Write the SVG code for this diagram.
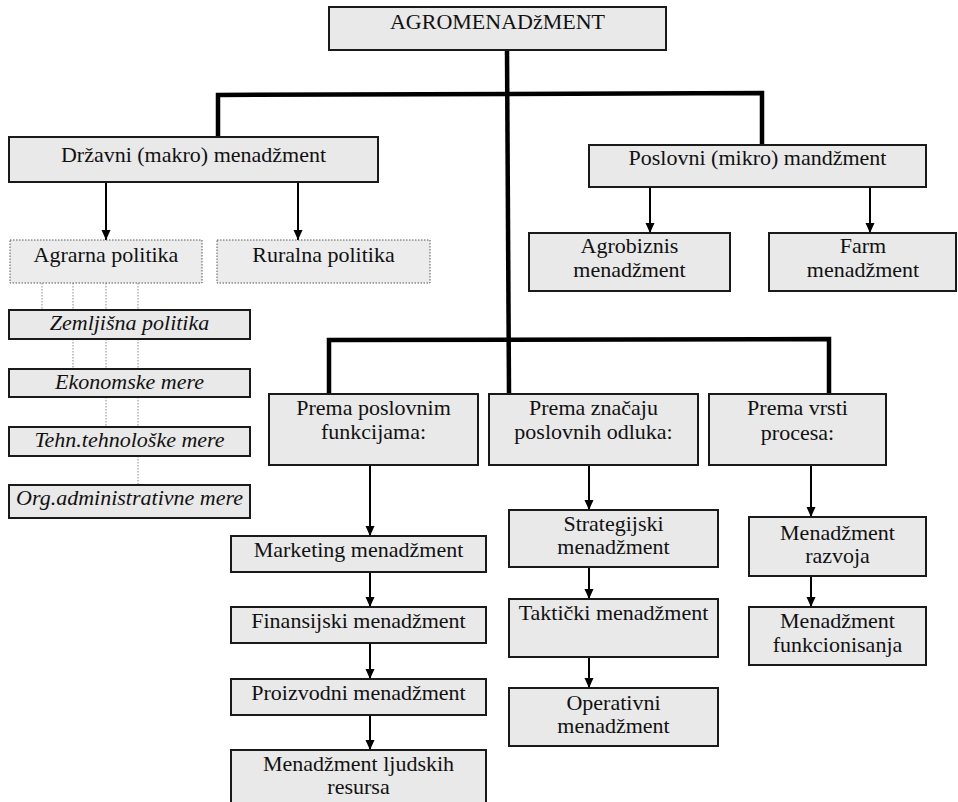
<svg xmlns="http://www.w3.org/2000/svg" width="958" height="802" viewBox="0 0 958 802">
<defs>
<style>
text{font-family:"Liberation Serif","DejaVu Serif","Times New Roman",serif;font-size:22px;fill:#111;text-anchor:middle}
.it{font-style:italic}
.box{fill:#e9e9e9;stroke:#1a1a1a;stroke-width:2}
.dbox{fill:#ececec;stroke:#555;stroke-width:1;stroke-dasharray:1.5 1.5}
.thick{fill:none;stroke:#000;stroke-width:4.5}
.arr{fill:none;stroke:#000;stroke-width:2;marker-end:url(#ah)}
.dot{fill:none;stroke:#888;stroke-width:1;stroke-dasharray:1.5 1.5}
</style>
<marker id="ah" markerUnits="userSpaceOnUse" markerWidth="10" markerHeight="10" viewBox="0 0 10 10" refX="10" refY="5" orient="auto">
<path d="M0,0.5 L10,5 L0,9.5 Z" fill="#000"/>
</marker>
</defs>
<rect width="958" height="802" fill="#fff"/>
<g id="connectors">
<path class="thick" d="M507,50 L509,394"/>
<path class="thick" d="M218,137 L218,95 L762,93 L762,145"/>
<path class="thick" d="M329,394 L329,340 L829,339 L829,394"/>
<line class="arr" x1="106" y1="183" x2="106" y2="240"/>
<line class="arr" x1="298" y1="183" x2="298" y2="240"/>
<line class="arr" x1="650" y1="188" x2="650" y2="233"/>
<line class="arr" x1="870" y1="188" x2="870" y2="233"/>
<line class="arr" x1="370" y1="466" x2="370" y2="536"/>
<line class="arr" x1="370" y1="573" x2="370" y2="607"/>
<line class="arr" x1="370" y1="644" x2="370" y2="679"/>
<line class="arr" x1="370" y1="716" x2="370" y2="750"/>
<line class="arr" x1="589" y1="466" x2="589" y2="510"/>
<line class="arr" x1="589" y1="563" x2="589" y2="599"/>
<line class="arr" x1="589" y1="653" x2="589" y2="688"/>
<line class="arr" x1="811" y1="466" x2="811" y2="517"/>
<line class="arr" x1="811" y1="572" x2="811" y2="607"/>
<path class="dot" d="M42,283 V310 M73,283 V310 M106,283 V310 M138,283 V310 M73,339 V369 M106,339 V369 M138,339 V369 M106,397 V427 M138,397 V427 M138,456 V485"/>
</g>
<g id="agromenadzment"><rect class="box" x="329" y="7" width="337" height="43"/><text x="497.5" y="29">AGROMENADžMENT</text></g>
<g id="drzavni"><rect class="box" x="9" y="137" width="369" height="45"/><text x="193.5" y="162">Državni (makro) menadžment</text></g>
<g id="poslovni"><rect class="box" x="589" y="145" width="337" height="42"/><text x="757.5" y="165">Poslovni (mikro) mandžment</text></g>
<g id="agrarna"><rect class="dbox" x="10" y="240" width="192" height="43"/><text x="106" y="262">Agrarna politika</text></g>
<g id="ruralna"><rect class="dbox" x="217" y="240" width="213" height="43"/><text x="323.5" y="262">Ruralna politika</text></g>
<g id="agrobiznis"><rect class="box" x="529" y="233" width="201" height="58"/><text x="629.5" y="253">Agrobiznis</text><text x="629.5" y="277">menadžment</text></g>
<g id="farm"><rect class="box" x="769" y="233" width="187" height="58"/><text x="863" y="253">Farm</text><text x="863" y="277">menadžment</text></g>
<g id="zemljisna"><rect class="box" x="9" y="310" width="241" height="29"/><text class="it" x="129.5" y="330">Zemljišna politika</text></g>
<g id="ekonomske"><rect class="box" x="9" y="369" width="241" height="28"/><text class="it" x="129.5" y="389">Ekonomske mere</text></g>
<g id="tehn"><rect class="box" x="9" y="427" width="241" height="29"/><text class="it" x="129.5" y="447">Tehn.tehnološke mere</text></g>
<g id="org"><rect class="box" x="9" y="485" width="241" height="33"/><text class="it" x="129.5" y="505">Org.administrativne mere</text></g>
<g id="prema-funkcijama"><rect class="box" x="269" y="394" width="209" height="71"/><text x="373.5" y="415">Prema poslovnim</text><text x="373.5" y="439">funkcijama:</text></g>
<g id="prema-znacaju"><rect class="box" x="489" y="394" width="209" height="71"/><text x="593.5" y="415">Prema značaju</text><text x="593.5" y="439">poslovnih odluka:</text></g>
<g id="prema-vrsti"><rect class="box" x="709" y="394" width="177" height="71"/><text x="797.5" y="415">Prema vrsti</text><text x="797.5" y="440">procesa:</text></g>
<g id="marketing"><rect class="box" x="231" y="536" width="255" height="36"/><text x="358.5" y="557">Marketing menadžment</text></g>
<g id="finansijski"><rect class="box" x="231" y="607" width="255" height="36"/><text x="358.5" y="628">Finansijski menadžment</text></g>
<g id="proizvodni"><rect class="box" x="231" y="679" width="255" height="36"/><text x="358.5" y="700">Proizvodni menadžment</text></g>
<g id="ljudski"><rect class="box" x="231" y="750" width="255" height="60"/><text x="358.5" y="771">Menadžment ljudskih</text><text x="358.5" y="794">resursa</text></g>
<g id="strategijski"><rect class="box" x="509" y="510" width="209" height="57"/><text x="613.5" y="531">Strategijski</text><text x="613.5" y="554">menadžment</text></g>
<g id="takticki"><rect class="box" x="509" y="599" width="209" height="58"/><text x="613.5" y="620">Taktički menadžment</text></g>
<g id="operativni"><rect class="box" x="509" y="688" width="209" height="58"/><text x="613.5" y="710">Operativni</text><text x="613.5" y="733">menadžment</text></g>
<g id="razvoja"><rect class="box" x="749" y="517" width="177" height="59"/><text x="837.5" y="540">Menadžment</text><text x="837.5" y="563">razvoja</text></g>
<g id="funkcionisanja"><rect class="box" x="749" y="607" width="177" height="58"/><text x="837.5" y="628">Menadžment</text><text x="837.5" y="652">funkcionisanja</text></g>
</svg>
